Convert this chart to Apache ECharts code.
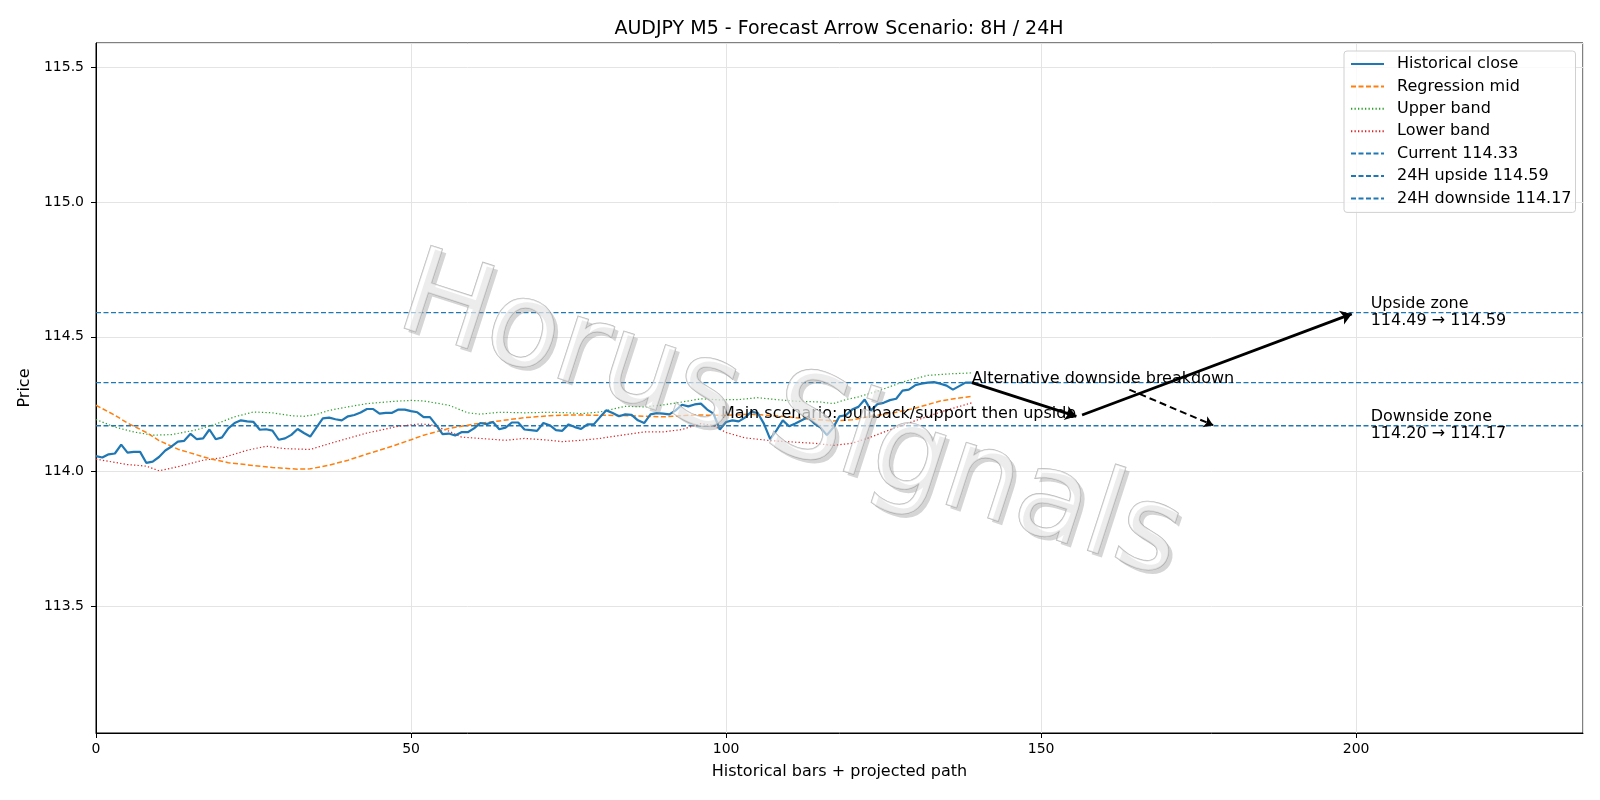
<!DOCTYPE html>
<html>
<head>
<meta charset="utf-8">
<title>AUDJPY M5 forecast</title>
<script src="https://cdn.jsdelivr.net/npm/echarts@6/dist/echarts.min.js"></script>
<style>
  html, body { margin: 0; padding: 0; background: #fff; }
  #main { width: 1600px; height: 800px; }
</style>
</head>
<body>
<div id="main"></div>
<script>
// historical closes, one per bar (index 0..139)
var closes = [
  114.057, 114.052, 114.064, 114.067, 114.100, 114.070, 114.073, 114.073, 114.032, 114.037,
  114.054, 114.078, 114.093, 114.111, 114.114, 114.140, 114.120, 114.123, 114.156, 114.120,
  114.127, 114.160, 114.180, 114.190, 114.186, 114.184, 114.155, 114.157, 114.152, 114.118,
  114.123, 114.136, 114.158, 114.143, 114.130, 114.164, 114.197, 114.200, 114.194, 114.190,
  114.205, 114.210, 114.219, 114.232, 114.232, 114.215, 114.218, 114.218, 114.230, 114.230,
  114.224, 114.220, 114.202, 114.202, 114.172, 114.139, 114.141, 114.134, 114.146, 114.146,
  114.160, 114.180, 114.176, 114.184, 114.157, 114.163, 114.182, 114.182, 114.156, 114.154,
  114.151, 114.180, 114.172, 114.154, 114.151, 114.175, 114.165, 114.158, 114.175, 114.175,
  114.202, 114.227, 114.217, 114.205, 114.212, 114.210, 114.190, 114.180, 114.212, 114.217,
  114.215, 114.212, 114.227, 114.248, 114.242, 114.249, 114.252, 114.230, 114.215, 114.156,
  114.184, 114.190, 114.186, 114.200, 114.222, 114.218, 114.178, 114.120, 114.153, 114.190,
  114.168, 114.178, 114.190, 114.202, 114.178, 114.163, 114.135, 114.163, 114.205, 114.209,
  114.230, 114.240, 114.267, 114.227, 114.250, 114.255, 114.265, 114.270, 114.300, 114.304,
  114.320, 114.326, 114.330, 114.332, 114.326, 114.319, 114.304, 114.317, 114.330, 114.330
];

// regression mid, read at these bars
var midX = [0, 3, 5, 8, 10, 13, 16, 18, 21, 24, 28, 32, 34, 37, 40, 43, 47, 50, 52, 56, 60, 64, 68, 72, 75,
  80, 85, 90, 95, 100, 104, 109, 113, 117, 120, 124, 127, 130, 134, 137, 139];
var midY = [114.246, 114.209, 114.180, 114.145, 114.115, 114.083, 114.062, 114.048, 114.033, 114.025,
  114.015, 114.009, 114.010, 114.024, 114.042, 114.065, 114.094, 114.118, 114.135, 114.160,
  114.176, 114.188, 114.200, 114.207, 114.210, 114.209, 114.207, 114.203, 114.210, 114.208,
  114.213, 114.205, 114.195, 114.188, 114.192, 114.209, 114.220, 114.235, 114.262, 114.273, 114.279];

var upperX = [0, 3, 6, 9, 12, 16, 19, 22, 25, 28, 31, 33, 35, 37, 40, 43, 47, 50, 52, 56, 59, 61, 64, 68,
  72, 75, 77, 80, 84, 87, 90, 93, 96, 99, 102, 105, 108, 111, 115, 117, 119, 121, 124, 128, 132, 136, 139];
var upperY = [114.193, 114.165, 114.147, 114.135, 114.137, 114.155, 114.176, 114.203, 114.221, 114.218,
  114.207, 114.205, 114.212, 114.227, 114.240, 114.252, 114.260, 114.264, 114.262, 114.246,
  114.218, 114.213, 114.220, 114.218, 114.220, 114.218, 114.215, 114.221, 114.242, 114.240,
  114.247, 114.258, 114.270, 114.266, 114.267, 114.274, 114.267, 114.261, 114.258, 114.252,
  114.267, 114.277, 114.298, 114.332, 114.357, 114.363, 114.366];

var lowerX = [0, 5, 8, 10, 13, 17, 20, 24, 27, 30, 34, 38, 43, 48, 51, 53, 56, 58, 61, 65, 68, 72, 74,
  77, 80, 84, 87, 90, 93, 96, 98, 100, 103, 107, 111, 114, 117, 120, 123, 126, 129, 132, 135, 139];
var lowerY = [114.046, 114.026, 114.020, 114.003, 114.018, 114.042, 114.051, 114.079, 114.094, 114.085,
  114.082, 114.110, 114.143, 114.168, 114.176, 114.175, 114.150, 114.128, 114.123, 114.116,
  114.123, 114.116, 114.111, 114.116, 114.123, 114.137, 114.147, 114.147, 114.156, 114.178,
  114.170, 114.145, 114.125, 114.115, 114.109, 114.105, 114.097, 114.105, 114.128, 114.155,
  114.180, 114.205, 114.228, 114.255];

// horizontal levels
var levelNames = ['Current 114.33', '24H upside 114.59', '24H downside 114.17'];
var levelValues = [114.33, 114.59, 114.17];

// projected path arrows
var mainArrows = [
  [[139, 114.33], [155.6, 114.205]],
  [[156.5, 114.21], [199.3, 114.585]]
];
var altArrow = [[164, 114.304], [177.3, 114.172]];

// annotations
var noteX = [139, 99.2, 202.3, 202.3];
var noteY = [114.33, 114.20, 114.59, 114.17];
var noteText = [
  'Alternative downside breakdown',
  'Main scenario: pullback/support then upside',
  'Upside zone\n114.49 \u2192 114.59',
  'Downside zone\n114.20 \u2192 114.17'
];

var FONT = 'DejaVu Sans';
var xMin = 0, xMax = 236;

function pairs(xs, ys) {
  var out = [];
  for (var i = 0; i < xs.length; i++) out.push([xs[i], ys[i]]);
  return out;
}

var closeData = [];
for (var i = 0; i < closes.length; i++) closeData.push([i, closes[i]]);

var series = [
  {
    name: 'Historical close', type: 'line', data: closeData, symbol: 'none',
    lineStyle: { color: '#1f77b4', width: 2.2 }, itemStyle: { color: '#1f77b4' }, z: 5
  },
  {
    name: 'Regression mid', type: 'line', data: pairs(midX, midY), symbol: 'none',
    lineStyle: { color: '#ff7f0e', width: 1.5, type: [5, 2.5] }, itemStyle: { color: '#ff7f0e' }, z: 4
  },
  {
    name: 'Upper band', type: 'line', data: pairs(upperX, upperY), symbol: 'none',
    lineStyle: { color: '#2ca02c', width: 1.2, type: [1.3, 2.2] }, itemStyle: { color: '#2ca02c' }, z: 3
  },
  {
    name: 'Lower band', type: 'line', data: pairs(lowerX, lowerY), symbol: 'none',
    lineStyle: { color: '#d62728', width: 1.2, type: [1.3, 2.2] }, itemStyle: { color: '#d62728' }, z: 3
  }
];

for (var k = 0; k < levelValues.length; k++) {
  series.push({
    name: levelNames[k], type: 'line', symbol: 'none',
    data: [[xMin, levelValues[k]], [xMax, levelValues[k]]],
    lineStyle: { color: '#1f77b4', width: 1.3, type: [5, 2.5] }, itemStyle: { color: '#1f77b4' }, z: 2
  });
}

series.push({
  type: 'lines', coordinateSystem: 'cartesian2d', z: 6,
  symbol: ['none', 'arrow'], symbolSize: 11,
  lineStyle: { color: '#000', width: 2.8, opacity: 1 },
  data: mainArrows.map(function (c) { return { coords: c }; })
});
series.push({
  type: 'lines', coordinateSystem: 'cartesian2d', z: 6,
  symbol: ['none', 'arrow'], symbolSize: 9,
  lineStyle: { color: '#000', width: 2, type: [7, 4], opacity: 1 },
  data: [{ coords: altArrow }]
});

var notes = [];
for (var n = 0; n < noteText.length; n++) {
  var twoLine = noteText[n].indexOf('\n') >= 0;
  notes.push({
    value: [noteX[n], noteY[n]],
    label: {
      show: true, formatter: noteText[n], position: [0, 0],
      align: 'left', verticalAlign: twoLine ? 'middle' : 'bottom',
      offset: [0, twoLine ? 0 : 5],
      fontFamily: FONT, fontSize: 16, lineHeight: 17, color: '#000'
    }
  });
}
series.push({
  type: 'scatter', symbolSize: 0, data: notes, z: 7, silent: true,
  itemStyle: { opacity: 1 },
  label: { color: '#000', opacity: 1 }
});

var chart = echarts.init(document.getElementById('main'));
chart.setOption({
  animation: false,
  backgroundColor: '#fff',
  title: {
    text: 'AUDJPY M5 - Forecast Arrow Scenario: 8H / 24H',
    left: 834, textAlign: 'center', top: 15,
    textStyle: { fontFamily: FONT, fontSize: 19, fontWeight: 'normal', color: '#000' }
  },
  grid: {
    left: 96, right: 17, top: 43, bottom: 67,
    show: true, borderColor: '#000', borderWidth: 1, backgroundColor: 'transparent'
  },
  legend: {
    orient: 'vertical', left: 1344, top: 51,
    data: ['Historical close', 'Regression mid', 'Upper band', 'Lower band'].concat(levelNames),
    itemWidth: 33, itemHeight: 14, itemGap: 6.4,
    padding: [5, 4, 6, 6],
    itemStyle: { opacity: 0 },
    backgroundColor: 'rgba(255,255,255,0.8)', borderColor: '#d0d0d0', borderWidth: 1, borderRadius: 3,
    textStyle: { fontFamily: FONT, fontSize: 16, color: '#000', padding: [0, 0, 0, 8] }
  },
  xAxis: {
    type: 'value', min: xMin, max: xMax, interval: 50,
    name: 'Historical bars + projected path', nameLocation: 'middle', nameGap: 31,
    nameTextStyle: { fontFamily: FONT, fontSize: 16, color: '#000' },
    axisLine: { lineStyle: { color: '#000', width: 1 } },
    axisTick: { length: 5, lineStyle: { color: '#000' } },
    axisLabel: { fontFamily: FONT, fontSize: 14, color: '#000', margin: 9, showMaxLabel: false },
    splitLine: { show: true, lineStyle: { color: '#e4e4e4', width: 1 } }
  },
  yAxis: {
    type: 'value', min: 113.03, max: 115.59, splitNumber: 5,
    name: 'Price', nameLocation: 'middle', nameGap: 59, nameRotate: 90,
    nameTextStyle: { fontFamily: FONT, fontSize: 16, color: '#000' },
    axisLine: { show: true, lineStyle: { color: '#000', width: 1 } },
    axisTick: { show: true, length: 5, lineStyle: { color: '#000' } },
    axisLabel: {
      fontFamily: FONT, fontSize: 14, color: '#000', margin: 12,
      showMinLabel: false, showMaxLabel: false,
      formatter: function (v) { return v.toFixed(1); }
    },
    splitLine: { show: true, lineStyle: { color: '#e4e4e4', width: 1 } }
  },
  graphic: [
    {
      type: 'text', x: 794, y: 425, rotation: -18 * Math.PI / 180, z: 50, silent: true,
      style: {
        text: 'Horus Signals', fontFamily: FONT, fontSize: 119,
        fill: 'rgba(150,150,150,0.4)', align: 'center', verticalAlign: 'middle'
      }
    },
    {
      type: 'text', x: 790, y: 421, rotation: -18 * Math.PI / 180, z: 51, silent: true,
      style: {
        text: 'Horus Signals', fontFamily: FONT, fontSize: 119,
        fill: 'rgba(255,255,255,0.55)', stroke: 'rgba(160,160,160,0.75)', lineWidth: 1.3,
        align: 'center', verticalAlign: 'middle'
      }
    }
  ],
  series: series
});
</script>
</body>
</html>
